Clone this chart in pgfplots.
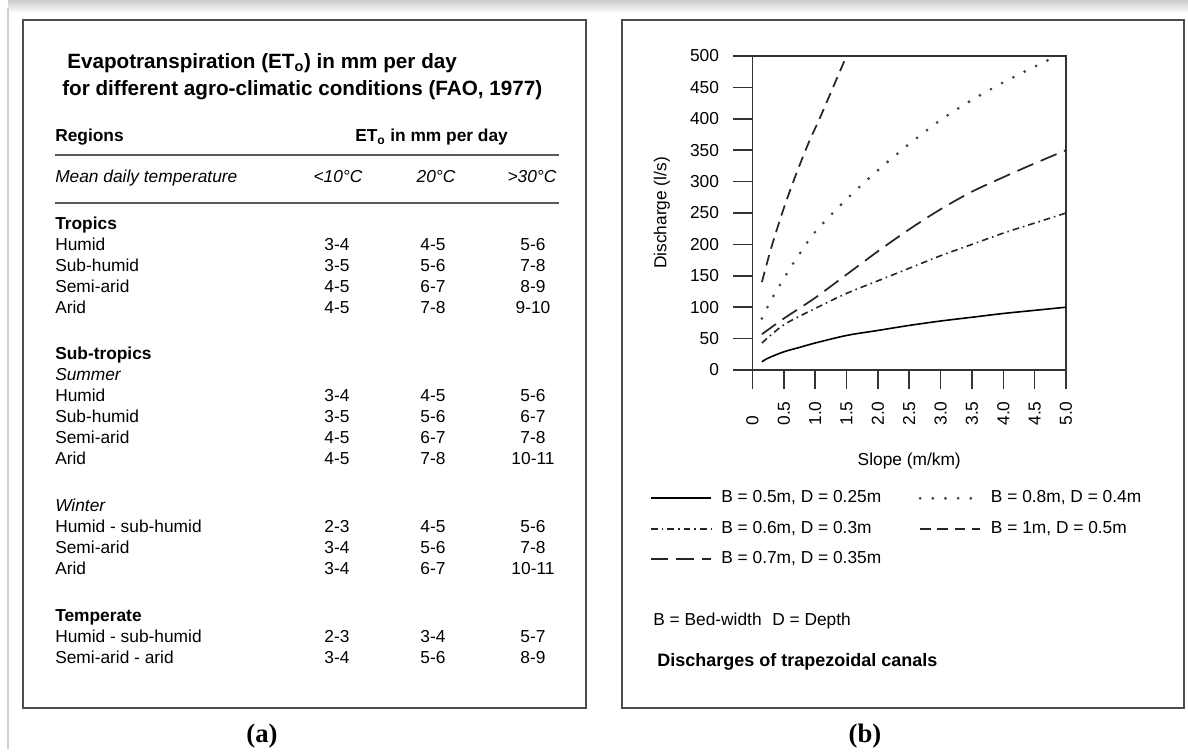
\documentclass[border=0pt]{standalone}
\usepackage{pgfplots}
\pgfplotsset{compat=1.18}
\usepackage{fontspec}
\setmainfont{Liberation Sans}
\newfontfamily\serifb{Liberation Serif}
\usepackage{graphicx}
\newcommand\rtl[1]{\rotatebox{90}{\makebox[19.5pt][l]{#1}}}
\tikzset{
  tb/.style={anchor=base west, inner sep=0pt, font=\fontsize{13}{15}\selectfont},
  tbb/.style={tb, font=\fontsize{13}{15}\selectfont\bfseries},
  tbi/.style={tb, font=\fontsize{13}{15}\selectfont\itshape},
  tc/.style={anchor=base, inner sep=0pt, font=\fontsize{13}{15}\selectfont},
}
\begin{document}
\begin{tikzpicture}
\begin{scope}[x=0.75pt,y=-0.75pt]
\path (0,0) rectangle (1188,749);
% screenshot shadow
\shade[top color=gray!40, bottom color=white] (8,0) rectangle (1188,13);
\draw[gray!35, line width=1.2pt] (8,8) -- (8,749);
% panel frames
\draw[line width=1.4pt, black!70] (23,20) rectangle (586,708);
\draw[line width=1.4pt, black!70] (622,20) rectangle (1184,708);
\node[font=\serifb\bfseries\fontsize{20}{24}\selectfont] at (262,736) {(a)};
\node[font=\serifb\bfseries\fontsize{20}{24}\selectfont] at (865,736) {(b)};
% ---------- panel (a): table ----------
\node[tb, font=\fontsize{15.5}{18}\selectfont\bfseries] at (67,69) {Evapotranspiration (ET\textsubscript{o}) in mm per day};
\node[tb, font=\fontsize{15.5}{18}\selectfont\bfseries] at (62,96) {for different agro-climatic conditions (FAO, 1977)};
\node[tbb] at (55,142) {Regions};
\node[tbb] at (355,142) {ET\textsubscript{o} in mm per day};
\draw[line width=1.8pt, black!65] (55,155) -- (559,155);
\node[tbi] at (55,183) {Mean daily temperature};
\node[tc, font=\fontsize{13}{15}\selectfont\itshape] at (338,183) {<10°C};
\node[tc, font=\fontsize{13}{15}\selectfont\itshape] at (436,183) {20°C};
\node[tc, font=\fontsize{13}{15}\selectfont\itshape] at (532,183) {>30°C};
\draw[line width=1.8pt, black!65] (55,203) -- (559,203);
% rows
\foreach \y/\name/\a/\b/\c/\sty in {
  229/Tropics////tbb,
  250/Humid/3-4/4-5/5-6/tb,
  271/Sub-humid/3-5/5-6/7-8/tb,
  292/Semi-arid/4-5/6-7/8-9/tb,
  313/Arid/4-5/7-8/9-10/tb,
  359.7/Sub-tropics////tbb,
  380.7/Summer////tbi,
  401.7/Humid/3-4/4-5/5-6/tb,
  422.7/Sub-humid/3-5/5-6/6-7/tb,
  443.7/Semi-arid/4-5/6-7/7-8/tb,
  464.7/Arid/4-5/7-8/10-11/tb,
  511.4/Winter////tbi,
  532.4/Humid - sub-humid/2-3/4-5/5-6/tb,
  553.4/Semi-arid/3-4/5-6/7-8/tb,
  574.4/Arid/3-4/6-7/10-11/tb,
  621.1/Temperate////tbb,
  642.1/Humid - sub-humid/2-3/3-4/5-7/tb,
  663.1/Semi-arid - arid/3-4/5-6/8-9/tb}{
  \node[\sty] at (55,\y) {\name};
  \node[tc] at (337,\y) {\a};
  \node[tc] at (433,\y) {\b};
  \node[tc] at (533,\y) {\c};
}
% ---------- panel (b) texts ----------
\node[tb] at (653,625) {B = Bed-width\hspace{8pt}D = Depth};
\node[tb, font=\fontsize{13.5}{16}\selectfont\bfseries] at (657,666) {Discharges of trapezoidal canals};
\end{scope}
\begin{axis}[
  at={(564.375pt,-277.5pt)}, anchor=south west,
  scale only axis, width=235.125pt, height=235.5pt,
  xmin=0, xmax=5, ymin=0, ymax=500,
  xtick={0,0.5,1,1.5,2,2.5,3,3.5,4,4.5,5},
  xticklabels={\rtl{0},\rtl{0.5},\rtl{1.0},\rtl{1.5},\rtl{2.0},\rtl{2.5},\rtl{3.0},\rtl{3.5},\rtl{4.0},\rtl{4.5},\rtl{5.0}},
  ytick={0,50,100,150,200,250,300,350,400,450,500},
  tick align=outside, tick pos=left,
  major tick length=14.6pt,
  tick style={line width=1.2pt, black!80},
  axis line style={line width=1.2pt, black!80},
  /pgf/number format/assume math mode=true,
  ticklabel style={font=\fontsize{13}{15}\selectfont},
  xticklabel style={anchor=north, yshift=-4pt},
  yticklabel style={anchor=east, xshift=-7pt},
  xlabel={Slope (m/km)}, ylabel={Discharge (l/s)},
  label style={font=\fontsize{13}{15}\selectfont},
  xlabel style={at={(axis description cs:0.5,-0.29)}, anchor=center},
  ylabel style={at={(axis description cs:-0.289,0.5)}, anchor=center},
  legend columns=2, legend cell align=left,
  legend image code/.code={\draw[#1] (0pt,0pt) -- (45pt,0pt);},
  legend style={at={(axis description cs:-0.327,-0.3726)}, anchor=north west,
    draw=none, fill=none, inner sep=0pt, row sep=6.4pt,
    font=\fontsize{13}{15}\selectfont,
    nodes={inner sep=2pt, text height=9.5pt, text depth=3pt},
    /tikz/every odd column/.append style={column sep=5pt},
    /tikz/every even column/.append style={column sep=26pt}},
]
\addplot[black, line width=1.2pt, smooth] coordinates {(0.15,13) (0.25,19) (0.5,29) (0.75,36) (1,43) (1.5,55) (2,63) (2.5,71) (3,78) (3.5,84) (4,90) (4.5,95) (5,100)};
\addlegendentry{B = 0.5m, D = 0.25m}
\addplot[black!75, line width=2.3pt, line cap=round, dash pattern=on 0pt off 9.5pt, smooth] coordinates {(0.15,82) (0.3,112) (0.5,146) (0.75,185) (1,220) (1.5,272) (2,318) (2.5,360) (3,398) (3.5,430) (4,458) (4.5,483) (4.85,500)};
\addlegendentry{B = 0.8m, D = 0.4m}
\addplot[black!85, line width=1.2pt, dash pattern=on 5pt off 3pt on 1.2pt off 3pt, smooth] coordinates {(0.15,43) (0.5,72) (1,98) (1.5,122) (2,142) (2.5,162) (3,182) (3.5,200) (4,218) (4.5,234) (5,250)};
\addlegendentry{B = 0.6m, D = 0.3m}
\addplot[black!85, line width=1.3pt, dash pattern=on 8pt off 5pt, smooth] coordinates {(0.15,140) (0.3,195) (0.5,258) (0.7,313) (0.9,363) (1.06,398) (1.22,435) (1.37,470) (1.5,500)};
\addlegendentry{B = 1m, D = 0.5m}
\addplot[black!85, line width=1.3pt, dash pattern=on 13pt off 6pt, smooth] coordinates {(0.15,57) (0.5,82) (1,115) (1.5,152) (2,189) (2.5,224) (3,256) (3.5,284) (4,307) (4.5,329) (5,350)};
\addlegendentry{B = 0.7m, D = 0.35m}
\end{axis}
\end{tikzpicture}
\end{document}
